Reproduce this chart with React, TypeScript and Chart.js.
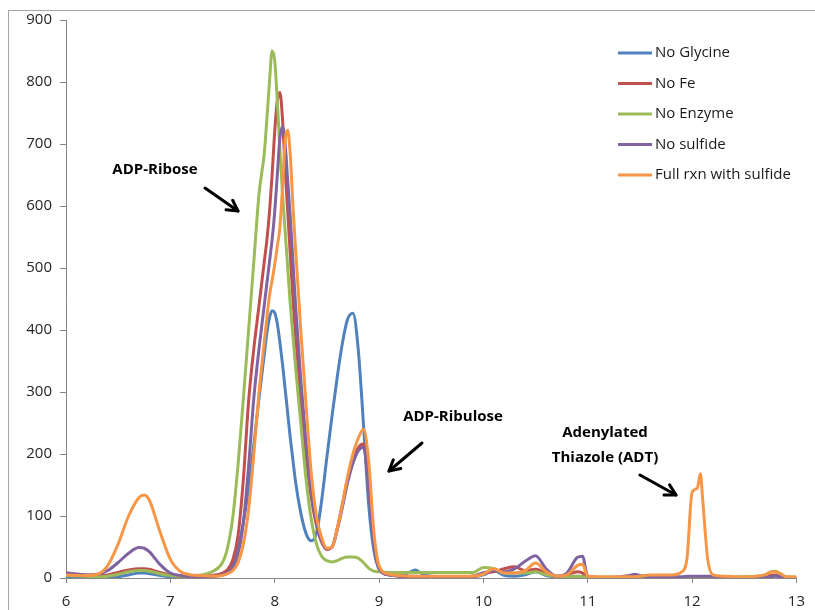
import React, { useEffect, useRef } from "react";
import { Chart, registerables } from "chart.js";

Chart.register(...registerables);

const TIMES = [
  6.0, 6.2, 6.3, 6.4, 6.5, 6.6, 6.7, 6.75, 6.8, 6.9,
  7.0, 7.1, 7.2, 7.3, 7.4, 7.5, 7.55, 7.6, 7.65, 7.7,
  7.75, 7.8, 7.85, 7.9, 7.925, 7.95, 7.975, 8.0, 8.025, 8.05,
  8.075, 8.1, 8.125, 8.15, 8.175, 8.2, 8.25, 8.3, 8.35, 8.4,
  8.45, 8.5, 8.55, 8.6, 8.65, 8.7, 8.75, 8.8, 8.85, 8.9,
  8.95, 9.0, 9.1, 9.2, 9.3, 9.35, 9.4, 9.5, 9.7, 9.9,
  10.0, 10.1, 10.2, 10.3, 10.4, 10.5, 10.6, 10.7, 10.8, 10.9,
  10.95, 11.0, 11.2, 11.4, 11.45, 11.5, 11.6, 11.7, 11.8, 11.9,
  11.95, 12.0, 12.05, 12.08, 12.1, 12.15, 12.2, 12.3, 12.5, 12.7,
  12.75, 12.8, 12.85, 12.9, 13.0,
];

const NO_GLYCINE = [
  2, 2, 1, 1, 2, 5, 8, 8, 7, 4,
  2, 1, 1, 1, 2, 6, 12, 25, 50, 90,
  145, 215, 290, 360, 395, 420, 431, 428, 410, 380,
  345, 305, 265, 225, 190, 155, 105, 72, 60, 72,
  125, 195, 262, 325, 380, 418, 427, 370, 250, 120,
  45, 15, 5, 4, 10, 13, 8, 3, 2, 2,
  5, 12, 4, 3, 5, 10, 4, 2, 2, 3,
  2, 1, 1, 1, 1, 1, 1, 1, 1, 1,
  1, 1, 1, 1, 1, 1, 1, 1, 1, 2,
  3, 4, 3, 1, 1,
];

const NO_FE = [
  8, 5, 4, 5, 9, 13, 15, 15, 14, 9,
  5, 3, 3, 3, 4, 8, 14, 30, 70, 160,
  285, 370, 440, 510, 545, 590, 650, 720, 770, 783,
  740, 660, 590, 520, 450, 390, 290, 200, 130, 85,
  58, 46, 50, 80, 120, 160, 190, 210, 216, 150,
  60, 15, 5, 3, 2, 2, 2, 2, 2, 3,
  8, 10, 15, 18, 12, 14, 8, 3, 5, 10,
  8, 2, 1, 1, 2, 2, 1, 1, 1, 1,
  1, 1, 1, 1, 1, 1, 1, 1, 1, 2,
  4, 5, 3, 1, 1,
];

const NO_ENZYME = [
  4, 3, 2, 3, 6, 10, 12, 12, 11, 7,
  4, 3, 4, 5, 10, 25, 50, 100, 185, 290,
  400, 510, 620, 685, 740, 800, 850, 835, 770, 690,
  620, 560, 500, 440, 390, 340, 250, 160, 95, 55,
  35, 28, 26, 28, 32, 34, 34, 32, 25, 16,
  11, 10, 9, 9, 9, 9, 9, 9, 9, 9,
  17, 15, 8, 8, 8, 10, 5, 3, 2, 3,
  2, 1, 1, 1, 1, 1, 1, 1, 1, 1,
  1, 1, 1, 1, 1, 1, 1, 1, 2, 5,
  10, 11, 6, 2, 1,
];

const NO_SULFIDE = [
  8, 5, 6, 12, 25, 40, 49, 48, 42, 22,
  8, 4, 3, 3, 3, 5, 9, 18, 40, 90,
  180, 290, 370, 440, 475, 510, 545, 590, 650, 710,
  728, 700, 640, 580, 510, 440, 320, 220, 140, 90,
  60, 47, 50, 78, 115, 155, 185, 205, 211, 150,
  60, 15, 5, 3, 3, 3, 2, 2, 2, 3,
  8, 12, 10, 15, 27, 36, 15, 3, 8, 33,
  35, 3, 1, 4, 6, 4, 2, 2, 2, 2,
  3, 3, 3, 3, 3, 3, 3, 1, 1, 1,
  2, 3, 2, 1, 1,
];

const FULL_RXN = [
  5, 4, 6, 20, 55, 100, 130, 134, 125, 75,
  30, 10, 5, 4, 3, 4, 7, 12, 25, 55,
  110, 200, 300, 380, 420, 455, 480, 505, 535, 566,
  630, 705, 722, 680, 600, 530, 400, 280, 170, 100,
  65, 48, 50, 80, 120, 165, 200, 225, 240, 190,
  75, 20, 6, 4, 3, 3, 3, 3, 3, 3,
  6, 15, 8, 8, 12, 24, 10, 3, 5, 20,
  22, 3, 2, 2, 2, 3, 5, 5, 5, 10,
  30, 138, 145, 168, 130, 30, 5, 3, 2, 5,
  9, 10, 7, 2, 2,
];

const SERIES_NAMES = ["No Glycine", "No Fe", "No Enzyme", "No sulfide", "Full rxn with sulfide"];
const SERIES_VALUES = [NO_GLYCINE, NO_FE, NO_ENZYME, NO_SULFIDE, FULL_RXN];
const SERIES_COLORS = ["#4F81BD", "#C0504D", "#9BBB59", "#8064A2", "#F79646"];

const ANNOTATIONS = [
  { lines: ["ADP-Ribose"], x: 155, y: 170, arrow: [205, 188, 238, 211] },
  { lines: ["ADP-Ribulose"], x: 453, y: 417, arrow: [422, 443, 389, 471] },
  { lines: ["Adenylated", "Thiazole (ADT)"], x: 605, y: 433, arrow: [640, 475, 676, 495] },
];

const FONT = "'Open Sans', 'Liberation Sans', sans-serif";

function drawArrow(ctx: CanvasRenderingContext2D, x1: number, y1: number, x2: number, y2: number) {
  const ang = Math.atan2(y2 - y1, x2 - x1);
  const head = 12;
  ctx.save();
  ctx.strokeStyle = "#000";
  ctx.lineWidth = 3;
  ctx.lineCap = "round";
  ctx.lineJoin = "round";
  ctx.beginPath();
  ctx.moveTo(x1, y1);
  ctx.lineTo(x2, y2);
  ctx.stroke();
  ctx.beginPath();
  ctx.moveTo(x2 - head * Math.cos(ang - 0.5), y2 - head * Math.sin(ang - 0.5));
  ctx.lineTo(x2, y2);
  ctx.lineTo(x2 - head * Math.cos(ang + 0.5), y2 - head * Math.sin(ang + 0.5));
  ctx.stroke();
  ctx.restore();
}

const decorPlugin = {
  id: "decor",
  beforeDraw(chart: any) {
    const ctx = chart.ctx as CanvasRenderingContext2D;
    ctx.save();
    ctx.fillStyle = "#fff";
    ctx.fillRect(0, 0, chart.width, chart.height);
    ctx.strokeStyle = "#a6a6a6";
    ctx.lineWidth = 1;
    ctx.strokeRect(8.5, 10.5, chart.width + 20, chart.height + 20);
    ctx.restore();
  },
  afterDraw(chart: any) {
    const ctx = chart.ctx as CanvasRenderingContext2D;
    ctx.save();
    ctx.font = `15px ${FONT}`;
    ctx.textAlign = "left";
    ctx.textBaseline = "middle";
    SERIES_NAMES.forEach((name, i) => {
      const y = 53 + i * 30.5;
      ctx.strokeStyle = SERIES_COLORS[i];
      ctx.lineWidth = 3;
      ctx.beginPath();
      ctx.moveTo(618, y);
      ctx.lineTo(652, y);
      ctx.stroke();
      ctx.fillStyle = "#1a1a1a";
      ctx.fillText(name, 655, y);
    });
    ctx.font = `bold 15px ${FONT}`;
    ctx.textAlign = "center";
    ANNOTATIONS.forEach((a) => {
      a.lines.forEach((ln, j) => {
        ctx.fillStyle = "#000";
        ctx.fillText(ln, a.x, a.y + j * 25);
      });
      const [x1, y1, x2, y2] = a.arrow;
      drawArrow(ctx, x1, y1, x2, y2);
    });
    ctx.restore();
  },
};

export default function App() {
  const ref = useRef<HTMLCanvasElement | null>(null);
  useEffect(() => {
    document.body.style.margin = "0";
    const canvas = ref.current;
    if (!canvas) return;
    const datasets = SERIES_NAMES.map((name, i) => ({
      label: name,
      data: TIMES.map((t, k) => ({ x: t, y: SERIES_VALUES[i][k] })),
      borderColor: SERIES_COLORS[i],
      backgroundColor: SERIES_COLORS[i],
      borderWidth: 3,
      pointRadius: 0,
      fill: false,
      cubicInterpolationMode: "monotone" as const,
      order: SERIES_NAMES.length - i,
    }));
    const chart = new Chart(canvas, {
      type: "line",
      data: { datasets },
      options: {
        animation: false,
        responsive: false,
        maintainAspectRatio: false,
        devicePixelRatio: 1,
        layout: { padding: { left: 0, top: 20, right: 18, bottom: 0 } },
        plugins: { legend: { display: false }, tooltip: { enabled: false } },
        scales: {
          x: {
            type: "linear",
            min: 6,
            max: 13,
            afterFit: (s: any) => { s.height = 32; },
            ticks: { stepSize: 1, color: "#262626", font: { family: FONT, size: 15 }, padding: 10, maxRotation: 0 },
            grid: { drawOnChartArea: false, drawTicks: true, tickLength: 5, color: "#868686" },
            border: { color: "#868686", width: 1 },
          },
          y: {
            min: 0,
            max: 900,
            afterFit: (s: any) => { s.width = 66; },
            ticks: { stepSize: 100, color: "#262626", font: { family: FONT, size: 15 }, padding: 8 },
            grid: { drawOnChartArea: false, drawTicks: true, tickLength: 6, color: "#868686" },
            border: { color: "#868686", width: 1 },
          },
        },
      },
      plugins: [decorPlugin],
    });
    return () => chart.destroy();
  }, []);
  return (
    <div style={{ position: "absolute", left: 0, top: 0, width: 815, height: 610 }}>
      <canvas ref={ref} width={815} height={610} style={{ width: 815, height: 610, display: "block" }} />
    </div>
  );
}
